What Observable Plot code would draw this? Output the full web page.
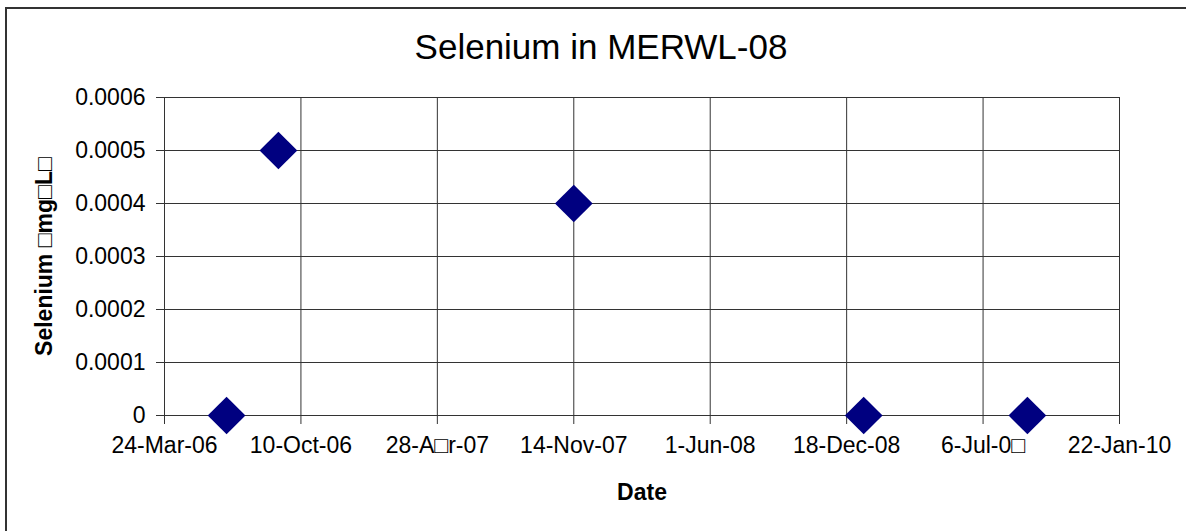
<!DOCTYPE html>
<html>
<head>
<meta charset="utf-8">
<script src="https://cdn.jsdelivr.net/npm/d3@7"></script>
<script src="https://cdn.jsdelivr.net/npm/@observablehq/plot@0.6"></script>
<style>
  html, body { margin: 0; padding: 0; background: #fff; }
  #chart { position: relative; width: 1186px; height: 531px; overflow: hidden; background: #fff; }
  #frame { position: absolute; left: 5px; top: 7px; right: 0; bottom: 0; border-left: 2px solid #333; border-top: 2px solid #333; }
  #chart svg { position: absolute; left: 0; top: 0; }
</style>
</head>
<body>
<div id="chart"><div id="frame"></div></div>
<script>
// Sample dates and selenium concentrations (mg/L)
const sampleDates = ["2006-06-23", "2006-09-07", "2007-11-14", "2009-01-12", "2009-09-09"];
const seleniumValues = [0, 0.0005, 0.0004, 0, 0];

// Axis ticks (200-day steps on the date axis)
const xTickDates = ["2006-03-24", "2006-10-10", "2007-04-28", "2007-11-14", "2008-06-01", "2008-12-18", "2009-07-06", "2010-01-22"];
const xTickLabels = ["24-Mar-06", "10-Oct-06", "28-A\u25A1r-07", "14-Nov-07", "1-Jun-08", "18-Dec-08", "6-Jul-0\u25A1", "22-Jan-10"];
const yTicks = [0, 0.0001, 0.0002, 0.0003, 0.0004, 0.0005, 0.0006];
const yTickLabels = ["0", "0.0001", "0.0002", "0.0003", "0.0004", "0.0005", "0.0006"];

const titleText = "Selenium in MERWL-08";
const xTitle = "Date";
const yTitle = "Selenium \u25A1mg\u25A1L\u25A1";

const parse = d3.utcParse("%Y-%m-%d");
const data = sampleDates.map((d, i) => ({date: parse(d), value: seleniumValues[i]}));
const xTicks = xTickDates.map(parse);
const xLabelOf = new Map(xTicks.map((t, i) => [+t, xTickLabels[i]]));
const yLabelOf = new Map(yTicks.map((t, i) => [t, yTickLabels[i]]));

const font = "'Liberation Sans', Arial, Helvetica, sans-serif";

const chart = Plot.plot({
  width: 1186,
  height: 531,
  marginLeft: 164,
  marginRight: 67,
  marginTop: 97,
  marginBottom: 116,
  style: {fontFamily: font, fontSize: "23px", color: "#000", background: "transparent", overflow: "visible"},
  x: {type: "utc", domain: [xTicks[0], xTicks[xTicks.length - 1]]},
  y: {domain: [0, 0.0006]},
  marks: [
    Plot.gridX(xTicks, {stroke: "#333", strokeOpacity: 1}),
    Plot.gridY(yTicks, {stroke: "#333", strokeOpacity: 1}),
    Plot.ruleY([0], {stroke: "#333"}),
    Plot.ruleX([xTicks[0]], {stroke: "#333"}),
    Plot.axisX({
      ticks: xTicks, tickSize: 9, tickPadding: 12,
      tickFormat: (d) => xLabelOf.get(+d), label: null,
      stroke: "#333", fill: "#000", fontSize: 23
    }),
    Plot.axisY({
      ticks: yTicks, tickSize: 8, tickPadding: 11,
      tickFormat: (d) => yLabelOf.get(d), label: null,
      stroke: "#333", fill: "#000", fontSize: 23
    }),
    Plot.dot(data, {x: "date", y: "value", symbol: "diamond2", r: 17, fill: "#000080", stroke: "none"}),
    Plot.text([titleText], {frameAnchor: "top", dx: -41, dy: -50, fontSize: 35, fill: "#000", textAnchor: "middle", lineAnchor: "middle"}),
    Plot.text([xTitle], {frameAnchor: "bottom", dy: 77, fontSize: 23, fontWeight: "bold", fill: "#000", textAnchor: "middle", lineAnchor: "middle"}),
    Plot.text([yTitle], {frameAnchor: "left", dx: -120, rotate: -90, fontSize: 23, fontWeight: "bold", fill: "#000", textAnchor: "middle", lineAnchor: "middle"})
  ]
});

document.getElementById("chart").appendChild(chart);
</script>
</body>
</html>
